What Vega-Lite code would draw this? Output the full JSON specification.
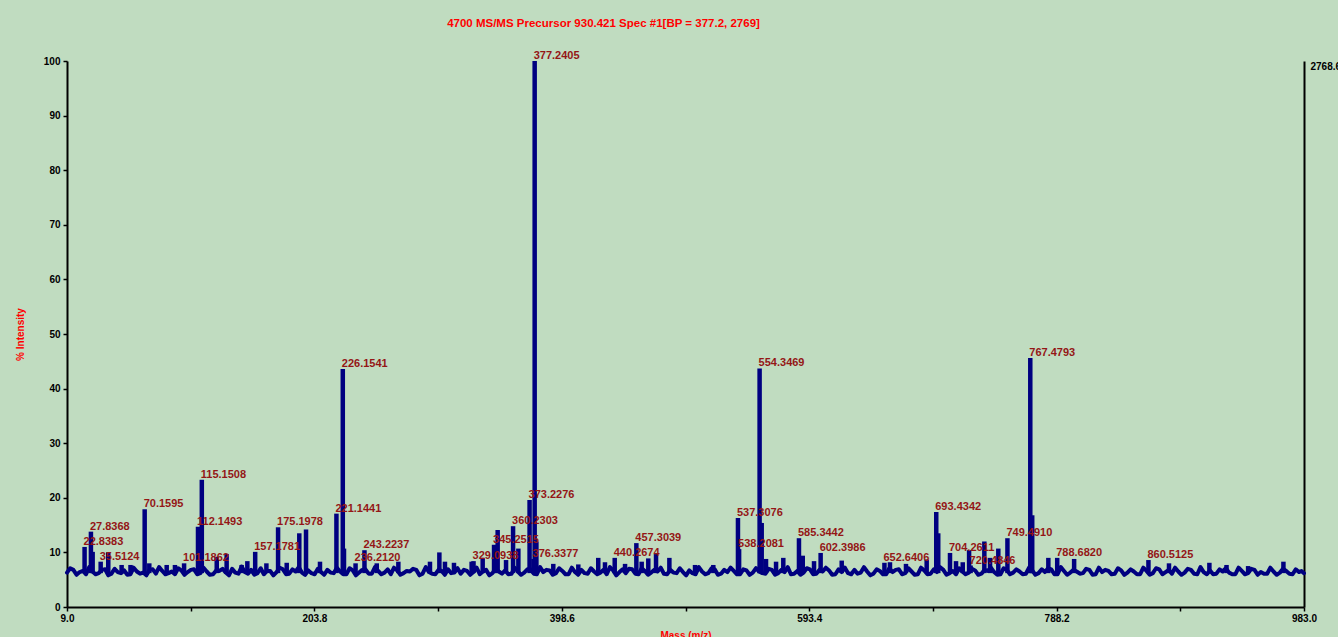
{
  "$schema": "https://vega.github.io/schema/vega-lite/v6.json",
  "width": 1237,
  "height": 546,
  "autosize": {"type": "none"},
  "padding": {"left": 67, "top": 61, "right": 34, "bottom": 30},
  "background": "#c0dcc0",
  "config": {
    "view": {"stroke": null},
    "axis": {
      "grid": false,
      "domainColor": "#000000",
      "domainWidth": 2,
      "tickColor": "#000000",
      "tickWidth": 1.5,
      "tickSize": 4,
      "labelFont": "Liberation Sans",
      "labelFontWeight": "bold",
      "labelFontSize": 10,
      "labelColor": "#000000",
      "titleFont": "Liberation Sans",
      "titleFontWeight": "bold",
      "titleFontSize": 10,
      "titleColor": "#ff0000"
    }
  },
  "title": {
    "text": "4700 MS/MS Precursor 930.421 Spec #1[BP = 377.2, 2769]",
    "color": "#ff0000",
    "font": "Liberation Sans",
    "fontSize": 11.5,
    "fontWeight": "bold",
    "anchor": "middle",
    "frame": "group",
    "dx": -82,
    "offset": 21
  },
  "datasets": {
    "trace": [
      {"mz": 9, "pct": 6.3}, {"mz": 11.5, "pct": 7.1}, {"mz": 14, "pct": 6.8}, {"mz": 16.5, "pct": 5.9}, {"mz": 19, "pct": 6.4}, {"mz": 21.5, "pct": 6.6},
      {"mz": 24, "pct": 6.0}, {"mz": 26.5, "pct": 7.3}, {"mz": 29, "pct": 6.5}, {"mz": 31.5, "pct": 6.0}, {"mz": 34, "pct": 6.2}, {"mz": 36.5, "pct": 6.8},
      {"mz": 39, "pct": 6.9}, {"mz": 41.5, "pct": 5.8}, {"mz": 44, "pct": 6.1}, {"mz": 46.5, "pct": 7.0}, {"mz": 49, "pct": 6.4}, {"mz": 51.5, "pct": 6.2},
      {"mz": 54, "pct": 6.7}, {"mz": 56.5, "pct": 5.9}, {"mz": 59, "pct": 6.0}, {"mz": 61.5, "pct": 7.2}, {"mz": 64, "pct": 6.5}, {"mz": 66.5, "pct": 6.1},
      {"mz": 69, "pct": 6.3}, {"mz": 71.5, "pct": 5.8}, {"mz": 74, "pct": 6.8}, {"mz": 76.5, "pct": 6.9}, {"mz": 79, "pct": 6.1}, {"mz": 81.5, "pct": 7.3},
      {"mz": 84, "pct": 6.6}, {"mz": 86.5, "pct": 6.0}, {"mz": 89, "pct": 6.2}, {"mz": 91.5, "pct": 6.5}, {"mz": 94, "pct": 6.0}, {"mz": 96.5, "pct": 7.1},
      {"mz": 99, "pct": 6.7}, {"mz": 101.5, "pct": 5.9}, {"mz": 104, "pct": 6.4}, {"mz": 106.5, "pct": 6.8}, {"mz": 109, "pct": 6.9}, {"mz": 111.5, "pct": 6.0},
      {"mz": 114, "pct": 6.2}, {"mz": 116.5, "pct": 7.2}, {"mz": 119, "pct": 6.5}, {"mz": 121.5, "pct": 5.9}, {"mz": 124, "pct": 6.0}, {"mz": 126.5, "pct": 6.7},
      {"mz": 129, "pct": 6.6}, {"mz": 131.5, "pct": 7.0}, {"mz": 134, "pct": 6.3}, {"mz": 136.5, "pct": 5.8}, {"mz": 139, "pct": 7.0}, {"mz": 141.5, "pct": 6.3},
      {"mz": 144, "pct": 6.1}, {"mz": 146.5, "pct": 7.4}, {"mz": 149, "pct": 6.4}, {"mz": 151.5, "pct": 6.1}, {"mz": 154, "pct": 6.8}, {"mz": 156.5, "pct": 5.9},
      {"mz": 159, "pct": 6.2}, {"mz": 161.5, "pct": 7.1}, {"mz": 164, "pct": 6.0}, {"mz": 166.5, "pct": 6.6}, {"mz": 169, "pct": 6.6}, {"mz": 171.5, "pct": 5.8},
      {"mz": 174, "pct": 6.4}, {"mz": 176.5, "pct": 7.2}, {"mz": 179, "pct": 6.9}, {"mz": 181.5, "pct": 6.0}, {"mz": 184, "pct": 6.1}, {"mz": 186.5, "pct": 6.9},
      {"mz": 189, "pct": 6.5}, {"mz": 191.5, "pct": 7.3}, {"mz": 194, "pct": 6.3}, {"mz": 196.5, "pct": 5.9}, {"mz": 199, "pct": 6.7}, {"mz": 201.5, "pct": 6.2},
      {"mz": 204, "pct": 6.0}, {"mz": 206.5, "pct": 7.0}, {"mz": 209, "pct": 6.4}, {"mz": 211.5, "pct": 5.9}, {"mz": 214, "pct": 6.8}, {"mz": 216.5, "pct": 6.3},
      {"mz": 219, "pct": 6.2}, {"mz": 221.5, "pct": 7.2}, {"mz": 224, "pct": 6.5}, {"mz": 226.5, "pct": 6.0}, {"mz": 229, "pct": 6.0}, {"mz": 231.5, "pct": 7.1},
      {"mz": 234, "pct": 6.7}, {"mz": 236.5, "pct": 5.8}, {"mz": 239, "pct": 6.3}, {"mz": 241.5, "pct": 6.8}, {"mz": 244, "pct": 6.9}, {"mz": 246.5, "pct": 6.1},
      {"mz": 249, "pct": 6.1}, {"mz": 251.5, "pct": 7.3}, {"mz": 254, "pct": 6.6}, {"mz": 256.5, "pct": 6.0}, {"mz": 259, "pct": 6.3}, {"mz": 261.5, "pct": 6.9},
      {"mz": 264, "pct": 6.0}, {"mz": 266.5, "pct": 7.2}, {"mz": 269, "pct": 6.7}, {"mz": 271.5, "pct": 5.9}, {"mz": 274, "pct": 6.2}, {"mz": 276.5, "pct": 6.6},
      {"mz": 279, "pct": 6.5}, {"mz": 281.5, "pct": 7.0}, {"mz": 284, "pct": 6.8}, {"mz": 286.5, "pct": 5.8}, {"mz": 289, "pct": 6.1}, {"mz": 291.5, "pct": 7.3},
      {"mz": 294, "pct": 6.4}, {"mz": 296.5, "pct": 6.1}, {"mz": 299, "pct": 6.0}, {"mz": 301.5, "pct": 6.8}, {"mz": 304, "pct": 6.6}, {"mz": 306.5, "pct": 5.9},
      {"mz": 309, "pct": 6.9}, {"mz": 311.5, "pct": 6.2}, {"mz": 314, "pct": 6.3}, {"mz": 316.5, "pct": 7.1}, {"mz": 319, "pct": 6.1}, {"mz": 321.5, "pct": 6.8},
      {"mz": 324, "pct": 6.6}, {"mz": 326.5, "pct": 5.9}, {"mz": 329, "pct": 6.4}, {"mz": 331.5, "pct": 7.2}, {"mz": 334, "pct": 6.0}, {"mz": 336.5, "pct": 6.5},
      {"mz": 339, "pct": 6.8}, {"mz": 341.5, "pct": 5.8}, {"mz": 344, "pct": 6.2}, {"mz": 346.5, "pct": 7.0}, {"mz": 349, "pct": 6.5}, {"mz": 351.5, "pct": 6.1},
      {"mz": 354, "pct": 6.7}, {"mz": 356.5, "pct": 6.0}, {"mz": 359, "pct": 6.1}, {"mz": 361.5, "pct": 7.2}, {"mz": 364, "pct": 6.5}, {"mz": 366.5, "pct": 5.9},
      {"mz": 369, "pct": 6.3}, {"mz": 371.5, "pct": 6.9}, {"mz": 374, "pct": 6.9}, {"mz": 376.5, "pct": 6.1}, {"mz": 379, "pct": 6.0}, {"mz": 381.5, "pct": 7.3},
      {"mz": 384, "pct": 6.4}, {"mz": 386.5, "pct": 6.8}, {"mz": 389, "pct": 6.7}, {"mz": 391.5, "pct": 5.9}, {"mz": 394, "pct": 6.2}, {"mz": 396.5, "pct": 7.1},
      {"mz": 399, "pct": 6.6}, {"mz": 401.5, "pct": 6.0}, {"mz": 404, "pct": 6.0}, {"mz": 406.5, "pct": 7.2}, {"mz": 409, "pct": 6.4}, {"mz": 411.5, "pct": 5.9},
      {"mz": 414, "pct": 6.8}, {"mz": 416.5, "pct": 6.2}, {"mz": 419, "pct": 6.1}, {"mz": 421.5, "pct": 7.1}, {"mz": 424, "pct": 6.5}, {"mz": 426.5, "pct": 6.0},
      {"mz": 429, "pct": 6.3}, {"mz": 431.5, "pct": 6.8}, {"mz": 434, "pct": 6.0}, {"mz": 436.5, "pct": 7.3}, {"mz": 439, "pct": 6.7}, {"mz": 441.5, "pct": 5.8},
      {"mz": 444, "pct": 6.4}, {"mz": 446.5, "pct": 6.9}, {"mz": 449, "pct": 6.2}, {"mz": 451.5, "pct": 7.0}, {"mz": 454, "pct": 6.9}, {"mz": 456.5, "pct": 6.1},
      {"mz": 459, "pct": 6.0}, {"mz": 461.5, "pct": 7.1}, {"mz": 464, "pct": 6.6}, {"mz": 466.5, "pct": 5.9}, {"mz": 469, "pct": 6.3}, {"mz": 471.5, "pct": 6.8},
      {"mz": 474, "pct": 6.5}, {"mz": 476.5, "pct": 7.2}, {"mz": 479, "pct": 6.1}, {"mz": 481.5, "pct": 6.0}, {"mz": 484, "pct": 6.8}, {"mz": 486.5, "pct": 6.3},
      {"mz": 489, "pct": 6.2}, {"mz": 491.5, "pct": 7.1}, {"mz": 494, "pct": 6.4}, {"mz": 496.5, "pct": 5.8}, {"mz": 499, "pct": 6.7}, {"mz": 501.5, "pct": 6.2},
      {"mz": 504, "pct": 6.0}, {"mz": 506.5, "pct": 7.3}, {"mz": 509, "pct": 6.5}, {"mz": 511.5, "pct": 6.0}, {"mz": 514, "pct": 6.2}, {"mz": 516.5, "pct": 7.1},
      {"mz": 519, "pct": 6.9}, {"mz": 521.5, "pct": 5.9}, {"mz": 524, "pct": 6.1}, {"mz": 526.5, "pct": 6.8}, {"mz": 529, "pct": 6.4}, {"mz": 531.5, "pct": 7.2},
      {"mz": 534, "pct": 6.6}, {"mz": 536.5, "pct": 6.0}, {"mz": 539, "pct": 6.0}, {"mz": 541.5, "pct": 6.9}, {"mz": 544, "pct": 6.7}, {"mz": 546.5, "pct": 5.9},
      {"mz": 549, "pct": 6.3}, {"mz": 551.5, "pct": 7.1}, {"mz": 554, "pct": 6.5}, {"mz": 556.5, "pct": 6.2}, {"mz": 559, "pct": 6.1}, {"mz": 561.5, "pct": 7.0},
      {"mz": 564, "pct": 6.8}, {"mz": 566.5, "pct": 5.9}, {"mz": 569, "pct": 6.2}, {"mz": 571.5, "pct": 6.8}, {"mz": 574, "pct": 6.4}, {"mz": 576.5, "pct": 7.3},
      {"mz": 579, "pct": 6.0}, {"mz": 581.5, "pct": 6.1}, {"mz": 584, "pct": 6.6}, {"mz": 586.5, "pct": 5.9}, {"mz": 589, "pct": 6.3}, {"mz": 591.5, "pct": 7.1},
      {"mz": 594, "pct": 6.9}, {"mz": 596.5, "pct": 6.0}, {"mz": 599, "pct": 6.1}, {"mz": 601.5, "pct": 6.8}, {"mz": 604, "pct": 6.5}, {"mz": 606.5, "pct": 7.2},
      {"mz": 609, "pct": 6.7}, {"mz": 611.5, "pct": 5.9}, {"mz": 614, "pct": 6.0}, {"mz": 616.5, "pct": 6.9}, {"mz": 619, "pct": 6.4}, {"mz": 621.5, "pct": 7.2},
      {"mz": 624, "pct": 6.2}, {"mz": 626.5, "pct": 6.0}, {"mz": 629, "pct": 6.8}, {"mz": 631.5, "pct": 6.1}, {"mz": 634, "pct": 6.3}, {"mz": 636.5, "pct": 7.3},
      {"mz": 639, "pct": 6.5}, {"mz": 641.5, "pct": 5.8}, {"mz": 644, "pct": 6.1}, {"mz": 646.5, "pct": 6.9}, {"mz": 649, "pct": 6.6}, {"mz": 651.5, "pct": 6.0},
      {"mz": 654, "pct": 6.0}, {"mz": 656.5, "pct": 7.1}, {"mz": 659, "pct": 6.4}, {"mz": 661.5, "pct": 6.8}, {"mz": 664, "pct": 6.9}, {"mz": 666.5, "pct": 6.0},
      {"mz": 669, "pct": 6.2}, {"mz": 671.5, "pct": 7.1}, {"mz": 674, "pct": 6.5}, {"mz": 676.5, "pct": 5.9}, {"mz": 679, "pct": 6.0}, {"mz": 681.5, "pct": 7.2},
      {"mz": 684, "pct": 6.7}, {"mz": 686.5, "pct": 6.0}, {"mz": 689, "pct": 6.1}, {"mz": 691.5, "pct": 6.9}, {"mz": 694, "pct": 6.4}, {"mz": 696.5, "pct": 7.3},
      {"mz": 699, "pct": 6.8}, {"mz": 701.5, "pct": 5.9}, {"mz": 704, "pct": 6.2}, {"mz": 706.5, "pct": 6.6}, {"mz": 709, "pct": 6.0}, {"mz": 711.5, "pct": 7.1},
      {"mz": 714, "pct": 6.5}, {"mz": 716.5, "pct": 6.0}, {"mz": 719, "pct": 6.3}, {"mz": 721.5, "pct": 7.0}, {"mz": 724, "pct": 6.7}, {"mz": 726.5, "pct": 5.9},
      {"mz": 729, "pct": 6.1}, {"mz": 731.5, "pct": 6.8}, {"mz": 734, "pct": 6.6}, {"mz": 736.5, "pct": 7.2}, {"mz": 739, "pct": 6.4}, {"mz": 741.5, "pct": 5.9},
      {"mz": 744, "pct": 6.0}, {"mz": 746.5, "pct": 7.1}, {"mz": 749, "pct": 6.8}, {"mz": 751.5, "pct": 6.0}, {"mz": 754, "pct": 6.3}, {"mz": 756.5, "pct": 6.9},
      {"mz": 759, "pct": 6.5}, {"mz": 761.5, "pct": 6.0}, {"mz": 764, "pct": 6.1}, {"mz": 766.5, "pct": 7.2}, {"mz": 769, "pct": 6.7}, {"mz": 771.5, "pct": 5.9},
      {"mz": 774, "pct": 6.2}, {"mz": 776.5, "pct": 6.9}, {"mz": 779, "pct": 6.4}, {"mz": 781.5, "pct": 7.1}, {"mz": 784, "pct": 6.9}, {"mz": 786.5, "pct": 6.0},
      {"mz": 789, "pct": 6.0}, {"mz": 791.5, "pct": 7.3}, {"mz": 794, "pct": 6.6}, {"mz": 796.5, "pct": 5.9}, {"mz": 799, "pct": 6.3}, {"mz": 801.5, "pct": 6.8},
      {"mz": 804, "pct": 6.5}, {"mz": 806.5, "pct": 6.1}, {"mz": 809, "pct": 6.2}, {"mz": 811.5, "pct": 7.0}, {"mz": 814, "pct": 6.8}, {"mz": 816.5, "pct": 5.9},
      {"mz": 819, "pct": 6.0}, {"mz": 821.5, "pct": 7.2}, {"mz": 824, "pct": 6.4}, {"mz": 826.5, "pct": 6.8}, {"mz": 829, "pct": 6.6}, {"mz": 831.5, "pct": 6.0},
      {"mz": 834, "pct": 6.1}, {"mz": 836.5, "pct": 7.1}, {"mz": 839, "pct": 6.7}, {"mz": 841.5, "pct": 5.9}, {"mz": 844, "pct": 6.3}, {"mz": 846.5, "pct": 6.9},
      {"mz": 849, "pct": 6.5}, {"mz": 851.5, "pct": 6.0}, {"mz": 854, "pct": 6.0}, {"mz": 856.5, "pct": 7.2}, {"mz": 859, "pct": 6.6}, {"mz": 861.5, "pct": 5.9},
      {"mz": 864, "pct": 6.2}, {"mz": 866.5, "pct": 7.1}, {"mz": 869, "pct": 6.9}, {"mz": 871.5, "pct": 6.0}, {"mz": 874, "pct": 6.4}, {"mz": 876.5, "pct": 6.8},
      {"mz": 879, "pct": 6.1}, {"mz": 881.5, "pct": 7.2}, {"mz": 884, "pct": 6.5}, {"mz": 886.5, "pct": 5.9}, {"mz": 889, "pct": 6.3}, {"mz": 891.5, "pct": 7.0},
      {"mz": 894, "pct": 6.8}, {"mz": 896.5, "pct": 6.1}, {"mz": 899, "pct": 6.0}, {"mz": 901.5, "pct": 7.3}, {"mz": 904, "pct": 6.4}, {"mz": 906.5, "pct": 6.0},
      {"mz": 909, "pct": 6.7}, {"mz": 911.5, "pct": 6.0}, {"mz": 914, "pct": 6.1}, {"mz": 916.5, "pct": 6.9}, {"mz": 919, "pct": 6.5}, {"mz": 921.5, "pct": 7.1},
      {"mz": 924, "pct": 6.3}, {"mz": 926.5, "pct": 6.0}, {"mz": 929, "pct": 6.0}, {"mz": 931.5, "pct": 7.2}, {"mz": 934, "pct": 6.6}, {"mz": 936.5, "pct": 6.0},
      {"mz": 939, "pct": 6.2}, {"mz": 941.5, "pct": 7.0}, {"mz": 944, "pct": 6.8}, {"mz": 946.5, "pct": 5.9}, {"mz": 949, "pct": 6.4}, {"mz": 951.5, "pct": 6.1},
      {"mz": 954, "pct": 6.1}, {"mz": 956.5, "pct": 7.2}, {"mz": 959, "pct": 6.5}, {"mz": 961.5, "pct": 5.9}, {"mz": 964, "pct": 6.3}, {"mz": 966.5, "pct": 7.0},
      {"mz": 969, "pct": 6.6}, {"mz": 971.5, "pct": 6.1}, {"mz": 974, "pct": 6.0}, {"mz": 976.5, "pct": 6.9}, {"mz": 979, "pct": 6.4}, {"mz": 981, "pct": 6.6},
      {"mz": 983, "pct": 6.2}
    ],
    "peaks": [
      {"mz": 22.8383, "pct": 11.0, "annotated": true},
      {"mz": 27.8368, "pct": 13.8, "annotated": true},
      {"mz": 29.2, "pct": 10.1},
      {"mz": 35.5124, "pct": 8.3, "annotated": true},
      {"mz": 41.5, "pct": 10.0},
      {"mz": 52.0, "pct": 7.7},
      {"mz": 59.0, "pct": 7.7},
      {"mz": 70.1595, "pct": 17.9, "annotated": true},
      {"mz": 73.8, "pct": 8.0},
      {"mz": 87.5, "pct": 7.7},
      {"mz": 94.0, "pct": 7.7},
      {"mz": 101.1862, "pct": 8.0, "annotated": true},
      {"mz": 112.1493, "pct": 14.7, "annotated": true},
      {"mz": 115.1508, "pct": 23.3, "annotated": true},
      {"mz": 126.9, "pct": 9.2},
      {"mz": 134.7, "pct": 9.7},
      {"mz": 146.5, "pct": 7.7},
      {"mz": 151.0, "pct": 8.4},
      {"mz": 157.1781, "pct": 10.1, "annotated": true},
      {"mz": 166.0, "pct": 8.0},
      {"mz": 175.1978, "pct": 14.6, "annotated": true},
      {"mz": 182.0, "pct": 8.1},
      {"mz": 191.9, "pct": 13.5},
      {"mz": 197.2, "pct": 14.2},
      {"mz": 208.2, "pct": 8.3},
      {"mz": 221.1441, "pct": 17.1, "annotated": true},
      {"mz": 226.1541, "pct": 43.6, "annotated": true},
      {"mz": 227.1, "pct": 10.7},
      {"mz": 236.2120, "pct": 8.0, "annotated": true},
      {"mz": 243.2237, "pct": 10.4, "annotated": true},
      {"mz": 252.9, "pct": 8.0},
      {"mz": 269.9, "pct": 8.3},
      {"mz": 294.8, "pct": 8.3},
      {"mz": 302.2, "pct": 10.0},
      {"mz": 306.6, "pct": 8.3},
      {"mz": 313.7, "pct": 8.1},
      {"mz": 327.6, "pct": 8.3},
      {"mz": 329.0938, "pct": 8.4, "annotated": true},
      {"mz": 336.3, "pct": 9.0},
      {"mz": 345.2515, "pct": 11.4, "annotated": true},
      {"mz": 348.1, "pct": 14.1},
      {"mz": 354.7, "pct": 8.6},
      {"mz": 360.2303, "pct": 14.8, "annotated": true},
      {"mz": 364.4, "pct": 10.7},
      {"mz": 373.2276, "pct": 19.6, "annotated": true},
      {"mz": 376.3377, "pct": 8.8, "annotated": true},
      {"mz": 377.2405, "pct": 100, "annotated": true},
      {"mz": 378.6, "pct": 12.0},
      {"mz": 391.9, "pct": 7.9},
      {"mz": 411.6, "pct": 7.8},
      {"mz": 427.3, "pct": 9.0},
      {"mz": 432.6, "pct": 8.2},
      {"mz": 440.2674, "pct": 9.0, "annotated": true},
      {"mz": 448.4, "pct": 7.9},
      {"mz": 457.3039, "pct": 11.7, "annotated": true},
      {"mz": 461.5, "pct": 8.3},
      {"mz": 466.7, "pct": 8.9},
      {"mz": 472.8, "pct": 9.7},
      {"mz": 483.3, "pct": 9.0},
      {"mz": 503.5, "pct": 7.7},
      {"mz": 517.9, "pct": 7.7},
      {"mz": 537.3076, "pct": 16.3, "annotated": true},
      {"mz": 538.2081, "pct": 10.6, "annotated": true},
      {"mz": 554.3469, "pct": 43.7, "annotated": true},
      {"mz": 556.0, "pct": 15.4},
      {"mz": 559.4, "pct": 8.8},
      {"mz": 567.3, "pct": 8.3},
      {"mz": 573.0, "pct": 9.0},
      {"mz": 585.3442, "pct": 12.6, "annotated": true},
      {"mz": 588.3, "pct": 9.4},
      {"mz": 597.2, "pct": 8.4},
      {"mz": 602.3986, "pct": 9.9, "annotated": true},
      {"mz": 619.0, "pct": 8.5},
      {"mz": 652.6406, "pct": 8.1, "annotated": true},
      {"mz": 657.0, "pct": 8.2},
      {"mz": 669.6, "pct": 7.9},
      {"mz": 685.9, "pct": 8.7},
      {"mz": 693.4342, "pct": 17.4, "annotated": true},
      {"mz": 695.0, "pct": 13.5},
      {"mz": 704.2611, "pct": 9.9, "annotated": true},
      {"mz": 709.0, "pct": 8.4},
      {"mz": 714.3, "pct": 8.2},
      {"mz": 719.3, "pct": 10.4},
      {"mz": 720.4846, "pct": 7.6, "annotated": true},
      {"mz": 731.3, "pct": 12.0},
      {"mz": 735.8, "pct": 9.0},
      {"mz": 742.3, "pct": 10.7},
      {"mz": 749.4910, "pct": 12.6, "annotated": true},
      {"mz": 767.4793, "pct": 45.6, "annotated": true},
      {"mz": 769.0, "pct": 16.8},
      {"mz": 781.7, "pct": 9.0},
      {"mz": 788.6820, "pct": 9.0, "annotated": true},
      {"mz": 802.0, "pct": 8.8},
      {"mz": 860.5125, "pct": 8.6, "annotated": true},
      {"mz": 876.7, "pct": 8.0},
      {"mz": 908.5, "pct": 8.1},
      {"mz": 922.0, "pct": 7.7},
      {"mz": 939.0, "pct": 7.5},
      {"mz": 966.8, "pct": 8.3}
    ]
  },
  "layer": [
    {
      "layer": [
        {
          "mark": {"type": "rule", "color": "#dcefee", "strokeWidth": 2},
          "encoding": {
            "y": {"datum": 0.45, "type": "quantitative", "scale": {"domain": [0, 100], "nice": false}}
          }
        },
        {
          "data": {"name": "trace"},
          "mark": {"type": "line", "color": "#000080", "strokeWidth": 4, "strokeJoin": "round", "strokeCap": "round"},
          "encoding": {
            "x": {
              "field": "mz",
              "type": "quantitative",
              "scale": {"domain": [9, 983], "nice": false, "zero": false},
              "axis": {
                "values": [9, 106.4, 203.8, 301.2, 398.6, 496, 593.4, 690.8, 788.2, 885.6, 983],
                "format": ".1f",
                "labelExpr": "round((datum.value - 9) / 97.4) % 2 === 0 ? datum.label : ''",
                "labelFlush": false,
                "labelOverlap": false,
                "labelPadding": 2,
                "title": "Mass (m/z)",
                "titlePadding": 7
              }
            },
            "y": {
              "field": "pct",
              "type": "quantitative",
              "scale": {"domain": [0, 100], "nice": false},
              "axis": {
                "values": [0, 5, 10, 15, 20, 25, 30, 35, 40, 45, 50, 55, 60, 65, 70, 75, 80, 85, 90, 95, 100],
                "format": "d",
                "labelExpr": "datum.value % 10 === 0 ? datum.label : ''",
                "labelOverlap": false,
                "labelPadding": 3,
                "title": "% Intensity",
                "titlePadding": 18
              }
            }
          }
        },
        {
          "data": {"name": "peaks"},
          "mark": {"type": "rule", "color": "#000080", "strokeWidth": 4.5},
          "encoding": {
            "x": {"field": "mz", "type": "quantitative"},
            "y": {"field": "pct", "type": "quantitative"},
            "y2": {"datum": 6.2}
          }
        },
        {
          "data": {"name": "peaks"},
          "transform": [{"filter": "datum.annotated === true"}],
          "mark": {
            "type": "text",
            "align": "left",
            "baseline": "alphabetic",
            "dx": -1,
            "dy": -2,
            "font": "Liberation Sans",
            "fontSize": 11,
            "fontWeight": "bold",
            "color": "#941616"
          },
          "encoding": {
            "x": {"field": "mz", "type": "quantitative"},
            "y": {"field": "pct", "type": "quantitative"},
            "text": {"field": "mz", "type": "quantitative", "format": ".4f"}
          }
        }
      ]
    },
    {
      "mark": {"type": "rule", "opacity": 0},
      "encoding": {
        "y": {
          "datum": 0,
          "type": "quantitative",
          "scale": {"domain": [0, 2768.6], "nice": false},
          "axis": {
            "orient": "right",
            "values": [2768.6],
            "format": ".1f",
            "tickSize": 0,
            "labelPadding": 6,
            "labelBaseline": "top",
            "labelFlush": false,
            "title": null
          }
        }
      }
    }
  ],
  "resolve": {"scale": {"y": "independent"}}
}
